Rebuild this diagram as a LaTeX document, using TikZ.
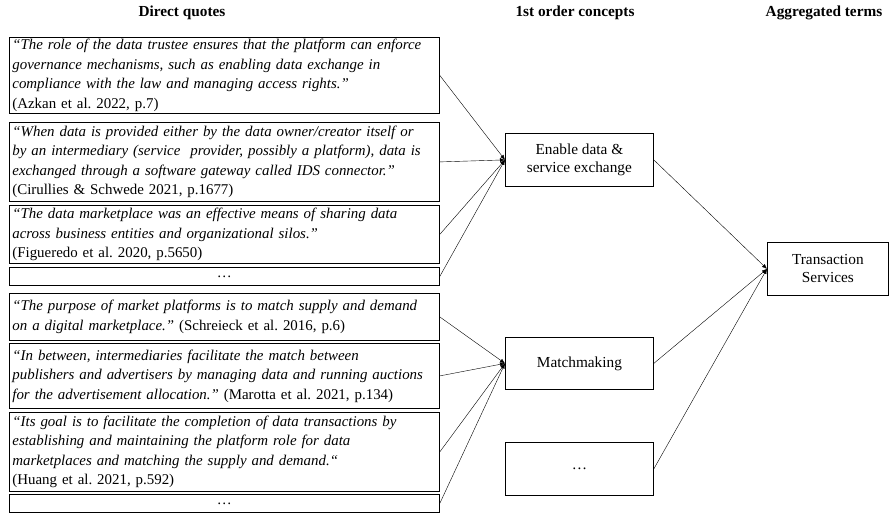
\documentclass[tikz,border=0pt]{standalone}
\usepackage{fontspec}
\setmainfont{Liberation Serif}
\usetikzlibrary{arrows.meta}
\frenchspacing
\tikzset{
    quote/.style={draw, line width=0.8pt, anchor=north west, text width=424pt, inner xsep=3pt, inner ysep=1pt, align=left, font=\fontsize{14.9}{19.5}\selectfont\itshape},
    dots/.style={quote, align=center, inner ysep=0pt},
    concept/.style={draw, line width=0.8pt, anchor=north west, minimum width=148pt, align=center, font=\fontsize{15.3}{18}\selectfont},
    head/.style={font=\fontsize{15.3}{18}\selectfont\bfseries},
    link/.style={line width=0.4pt, -{Latex[length=5pt,width=4pt]}}}
\begin{document}
\begin{tikzpicture}[x=1pt,y=-1pt]
\useasboundingbox (0,0) rectangle (889,515);

%Headers
\node[head] (hq) at (182,13) {Direct quotes};
\node[head] (hc) at (575,13) {1st order concepts};
\node[head] (ha) at (824,13) {Aggregated terms};

%Direct quotes
\node[quote, minimum height=76pt] (q1) at (9,37) {“The role of the data trustee ensures that the platform can enforce\\ governance mechanisms, such as enabling data exchange in\\ compliance with the law and managing access rights.”\\ {\upshape (Azkan et al. 2022, p.7)}};
\node[quote, minimum height=79pt] (q2) at (9,122) {“When data is provided either by the data owner/creator itself or\\ by an intermediary (service~ provider, possibly a platform), data is\\ exchanged through a software gateway called IDS connector.”\\ {\upshape (Cirullies \& Schwede 2021, p.1677)}};
\node[quote, minimum height=58pt] (q3) at (9,205) {“The data marketplace was an effective means of sharing data\\ across business entities and organizational silos.”\\ {\upshape (Figueredo et al. 2020, p.5650)}};
\node[dots, minimum height=18pt] (q4) at (9,267) {\upshape …};
\node[quote, minimum height=47pt] (q5) at (9,293) {“The purpose of market platforms is to match supply and demand\\ on a digital marketplace.” {\upshape (Schreieck et al. 2016, p.6)}};
\node[quote, minimum height=65pt] (q6) at (9,343) {“In between, intermediaries facilitate the match between\\ publishers and advertisers by managing data and running auctions\\ for the advertisement allocation.” {\upshape (Marotta et al. 2021, p.134)}};
\node[quote, minimum height=79pt] (q7) at (9,412) {“Its goal is to facilitate the completion of data transactions by\\ establishing and maintaining the platform role for data\\ marketplaces and matching the supply and demand.“\\ {\upshape (Huang et al. 2021, p.592)}};
\node[dots, minimum height=18pt] (q8) at (9,494) {\upshape …};

%1st order concepts
\node[concept, minimum height=53pt] (c1) at (505,133) {Enable data \&\\ service exchange};
\node[concept, minimum height=52pt] (c2) at (505,337) {Matchmaking};
\node[concept, minimum height=53pt] (c3) at (505,442) {…};

%Aggregated terms
\node[concept, minimum width=121pt, minimum height=53pt] (t1) at (767,242) {Transaction\\ Services};

%Links
\draw[link] (q1.east) -- (c1.west);
\draw[link] (q2.east) -- (c1.west);
\draw[link] (q3.east) -- (c1.west);
\draw[link] (q4.east) -- (c1.west);
\draw[link] (q5.east) -- (c2.west);
\draw[link] (q6.east) -- (c2.west);
\draw[link] (q7.east) -- (c2.west);
\draw[link] (q8.east) -- (c2.west);
\draw[link] (c1.east) -- (t1.west);
\draw[link] (c2.east) -- (t1.west);
\draw[link] (c3.east) -- (t1.west);

\end{tikzpicture}
\end{document}
